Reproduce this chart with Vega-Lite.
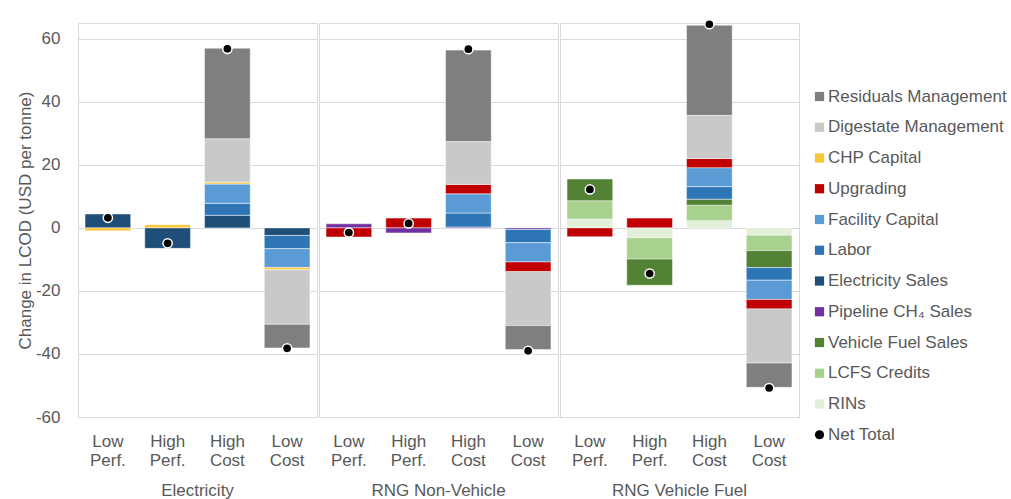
{
  "$schema": "https://vega.github.io/schema/vega-lite/v6.json",
  "padding": {"left": 16, "top": 16, "right": 0, "bottom": 0},
  "background": "#ffffff",
  "data": {"values": [
    {"group": "Electricity", "scenario": "Low Perf.", "component": "Electricity Sales", "value": 4.4},
    {"group": "Electricity", "scenario": "Low Perf.", "component": "CHP Capital", "value": -0.9},
    {"group": "Electricity", "scenario": "Low Perf.", "component": "Net Total", "value": 3.2},
    {"group": "Electricity", "scenario": "High Perf.", "component": "CHP Capital", "value": 1.0},
    {"group": "Electricity", "scenario": "High Perf.", "component": "Electricity Sales", "value": -6.5},
    {"group": "Electricity", "scenario": "High Perf.", "component": "Net Total", "value": -4.9},
    {"group": "Electricity", "scenario": "High Cost", "component": "Electricity Sales", "value": 4.0},
    {"group": "Electricity", "scenario": "High Cost", "component": "Labor", "value": 3.8},
    {"group": "Electricity", "scenario": "High Cost", "component": "Facility Capital", "value": 6.1},
    {"group": "Electricity", "scenario": "High Cost", "component": "CHP Capital", "value": 0.6},
    {"group": "Electricity", "scenario": "High Cost", "component": "Digestate Management", "value": 13.8},
    {"group": "Electricity", "scenario": "High Cost", "component": "Residuals Management", "value": 28.7},
    {"group": "Electricity", "scenario": "High Cost", "component": "Net Total", "value": 56.8},
    {"group": "Electricity", "scenario": "Low Cost", "component": "Electricity Sales", "value": -2.4},
    {"group": "Electricity", "scenario": "Low Cost", "component": "Labor", "value": -4.2},
    {"group": "Electricity", "scenario": "Low Cost", "component": "Facility Capital", "value": -6.0},
    {"group": "Electricity", "scenario": "Low Cost", "component": "CHP Capital", "value": -0.7},
    {"group": "Electricity", "scenario": "Low Cost", "component": "Digestate Management", "value": -17.3},
    {"group": "Electricity", "scenario": "Low Cost", "component": "Residuals Management", "value": -7.5},
    {"group": "Electricity", "scenario": "Low Cost", "component": "Net Total", "value": -38.2},
    {"group": "RNG Non-Vehicle", "scenario": "Low Perf.", "component": "Pipeline CH₄ Sales", "value": 1.3},
    {"group": "RNG Non-Vehicle", "scenario": "Low Perf.", "component": "Upgrading", "value": -2.9},
    {"group": "RNG Non-Vehicle", "scenario": "Low Perf.", "component": "Net Total", "value": -1.5},
    {"group": "RNG Non-Vehicle", "scenario": "High Perf.", "component": "Upgrading", "value": 3.1},
    {"group": "RNG Non-Vehicle", "scenario": "High Perf.", "component": "Pipeline CH₄ Sales", "value": -1.6},
    {"group": "RNG Non-Vehicle", "scenario": "High Perf.", "component": "Net Total", "value": 1.4},
    {"group": "RNG Non-Vehicle", "scenario": "High Cost", "component": "Pipeline CH₄ Sales", "value": 0.3},
    {"group": "RNG Non-Vehicle", "scenario": "High Cost", "component": "Labor", "value": 4.4},
    {"group": "RNG Non-Vehicle", "scenario": "High Cost", "component": "Facility Capital", "value": 6.1},
    {"group": "RNG Non-Vehicle", "scenario": "High Cost", "component": "Upgrading", "value": 3.0},
    {"group": "RNG Non-Vehicle", "scenario": "High Cost", "component": "Digestate Management", "value": 13.6},
    {"group": "RNG Non-Vehicle", "scenario": "High Cost", "component": "Residuals Management", "value": 29.0},
    {"group": "RNG Non-Vehicle", "scenario": "High Cost", "component": "Net Total", "value": 56.7},
    {"group": "RNG Non-Vehicle", "scenario": "Low Cost", "component": "Pipeline CH₄ Sales", "value": -0.5},
    {"group": "RNG Non-Vehicle", "scenario": "Low Cost", "component": "Labor", "value": -4.2},
    {"group": "RNG Non-Vehicle", "scenario": "Low Cost", "component": "Facility Capital", "value": -6.1},
    {"group": "RNG Non-Vehicle", "scenario": "Low Cost", "component": "Upgrading", "value": -3.1},
    {"group": "RNG Non-Vehicle", "scenario": "Low Cost", "component": "Digestate Management", "value": -17.1},
    {"group": "RNG Non-Vehicle", "scenario": "Low Cost", "component": "Residuals Management", "value": -7.6},
    {"group": "RNG Non-Vehicle", "scenario": "Low Cost", "component": "Net Total", "value": -39.0},
    {"group": "RNG Vehicle Fuel", "scenario": "Low Perf.", "component": "RINs", "value": 2.8},
    {"group": "RNG Vehicle Fuel", "scenario": "Low Perf.", "component": "LCFS Credits", "value": 5.8},
    {"group": "RNG Vehicle Fuel", "scenario": "Low Perf.", "component": "Vehicle Fuel Sales", "value": 6.9},
    {"group": "RNG Vehicle Fuel", "scenario": "Low Perf.", "component": "Upgrading", "value": -2.8},
    {"group": "RNG Vehicle Fuel", "scenario": "Low Perf.", "component": "Net Total", "value": 12.2},
    {"group": "RNG Vehicle Fuel", "scenario": "High Perf.", "component": "Upgrading", "value": 3.1},
    {"group": "RNG Vehicle Fuel", "scenario": "High Perf.", "component": "RINs", "value": -3.1},
    {"group": "RNG Vehicle Fuel", "scenario": "High Perf.", "component": "LCFS Credits", "value": -6.8},
    {"group": "RNG Vehicle Fuel", "scenario": "High Perf.", "component": "Vehicle Fuel Sales", "value": -8.3},
    {"group": "RNG Vehicle Fuel", "scenario": "High Perf.", "component": "Net Total", "value": -14.5},
    {"group": "RNG Vehicle Fuel", "scenario": "High Cost", "component": "RINs", "value": 2.3},
    {"group": "RNG Vehicle Fuel", "scenario": "High Cost", "component": "LCFS Credits", "value": 4.9},
    {"group": "RNG Vehicle Fuel", "scenario": "High Cost", "component": "Vehicle Fuel Sales", "value": 1.9},
    {"group": "RNG Vehicle Fuel", "scenario": "High Cost", "component": "Labor", "value": 4.0},
    {"group": "RNG Vehicle Fuel", "scenario": "High Cost", "component": "Facility Capital", "value": 6.0},
    {"group": "RNG Vehicle Fuel", "scenario": "High Cost", "component": "Upgrading", "value": 2.9},
    {"group": "RNG Vehicle Fuel", "scenario": "High Cost", "component": "Digestate Management", "value": 13.7},
    {"group": "RNG Vehicle Fuel", "scenario": "High Cost", "component": "Residuals Management", "value": 28.6},
    {"group": "RNG Vehicle Fuel", "scenario": "High Cost", "component": "Net Total", "value": 64.6},
    {"group": "RNG Vehicle Fuel", "scenario": "Low Cost", "component": "RINs", "value": -2.3},
    {"group": "RNG Vehicle Fuel", "scenario": "Low Cost", "component": "LCFS Credits", "value": -4.9},
    {"group": "RNG Vehicle Fuel", "scenario": "Low Cost", "component": "Vehicle Fuel Sales", "value": -5.4},
    {"group": "RNG Vehicle Fuel", "scenario": "Low Cost", "component": "Labor", "value": -4.0},
    {"group": "RNG Vehicle Fuel", "scenario": "Low Cost", "component": "Facility Capital", "value": -6.1},
    {"group": "RNG Vehicle Fuel", "scenario": "Low Cost", "component": "Upgrading", "value": -3.0},
    {"group": "RNG Vehicle Fuel", "scenario": "Low Cost", "component": "Digestate Management", "value": -17.2},
    {"group": "RNG Vehicle Fuel", "scenario": "Low Cost", "component": "Residuals Management", "value": -7.7},
    {"group": "RNG Vehicle Fuel", "scenario": "Low Cost", "component": "Net Total", "value": -50.8}
  ]},
  "facet": {
    "column": {
      "field": "group", "type": "nominal",
      "sort": ["Electricity", "RNG Non-Vehicle", "RNG Vehicle Fuel"],
      "header": {"title": null, "labelOrient": "bottom", "labelFontSize": 17, "labelColor": "#595959", "labelFont": "Liberation Sans", "labelPadding": 15}
    }
  },
  "spacing": 0,
  "spec": {
    "width": 239,
    "height": 394,
    "layer": [
      {
        "transform": [
          {"filter": "datum.component !== 'Net Total'"},
          {"calculate": "indexof(['RINs','LCFS Credits','Vehicle Fuel Sales','Pipeline CH₄ Sales','Electricity Sales','Labor','Facility Capital','Upgrading','CHP Capital','Digestate Management','Residuals Management'], datum.component)", "as": "stackOrder"}
        ],
        "mark": {"type": "bar", "stroke": "#ffffff", "strokeWidth": 0.6, "strokeOpacity": 0.8},
        "encoding": {
          "x": {"field": "scenario", "type": "nominal", "sort": ["Low Perf.", "High Perf.", "High Cost", "Low Cost"],
                "scale": {"paddingInner": 0.235, "paddingOuter": 0.1175},
                "axis": {"title": null, "labelAngle": 0, "labelExpr": "split(datum.value, ' ')", "labelLineHeight": 19, "labelPadding": 15, "ticks": false, "domain": false, "grid": false}},
          "y": {"field": "value", "type": "quantitative", "stack": "zero",
                "scale": {"domain": [-60, 65], "nice": false, "zero": false},
                "axis": {"title": "Change in LCOD (USD per tonne)", "values": [-60, -40, -20, 0, 20, 40, 60], "labelExpr": "'' + datum.value", "ticks": false, "domain": false, "labelPadding": 17, "titlePadding": 1}},
          "color": {"field": "component", "type": "nominal",
                    "scale": {
                      "domain": ["Residuals Management", "Digestate Management", "CHP Capital", "Upgrading", "Facility Capital", "Labor", "Electricity Sales", "Pipeline CH₄ Sales", "Vehicle Fuel Sales", "LCFS Credits", "RINs", "Net Total"],
                      "range": ["#7f7f7f", "#c9c9c9", "#f9c532", "#c00000", "#5b9bd5", "#2e75b6", "#1f4e79", "#7030a0", "#548235", "#a9d18e", "#e2f0d9", "#000000"]
                    },
                    "legend": {"title": null, "orient": "none", "legendX": 733, "legendY": 65, "symbolSize": 85, "symbolStrokeWidth": 0,
                               "labelFontSize": 17, "labelColor": "#595959", "labelFont": "Liberation Sans", "labelOffset": 0, "rowPadding": 12.75, "padding": 0, "labelLimit": 300}},
          "order": {"field": "stackOrder", "type": "quantitative", "sort": "ascending"}
        }
      },
      {
        "transform": [{"filter": "datum.component === 'Net Total'"}],
        "mark": {"type": "point", "filled": true, "size": 85, "stroke": "#ffffff", "strokeWidth": 1.5, "opacity": 1},
        "encoding": {
          "x": {"field": "scenario", "type": "nominal", "sort": ["Low Perf.", "High Perf.", "High Cost", "Low Cost"]},
          "y": {"field": "value", "type": "quantitative"},
          "color": {"field": "component", "type": "nominal"},
          "shape": {"field": "component", "type": "nominal",
                    "scale": {
                      "domain": ["Residuals Management", "Digestate Management", "CHP Capital", "Upgrading", "Facility Capital", "Labor", "Electricity Sales", "Pipeline CH₄ Sales", "Vehicle Fuel Sales", "LCFS Credits", "RINs", "Net Total"],
                      "range": ["square", "square", "square", "square", "square", "square", "square", "square", "square", "square", "square", "circle"]
                    }}
        }
      }
    ]
  },
  "config": {
    "font": "Liberation Sans",
    "view": {"stroke": "#d9d9d9", "strokeWidth": 1},
    "axis": {"labelFontSize": 17, "labelColor": "#595959", "labelFont": "Liberation Sans", "titleFontSize": 17, "titleFontWeight": "normal", "titleColor": "#595959", "titleFont": "Liberation Sans", "gridColor": "#d9d9d9", "gridWidth": 1},
    "axisX": {"domainColor": "#d9d9d9"}
  }
}
